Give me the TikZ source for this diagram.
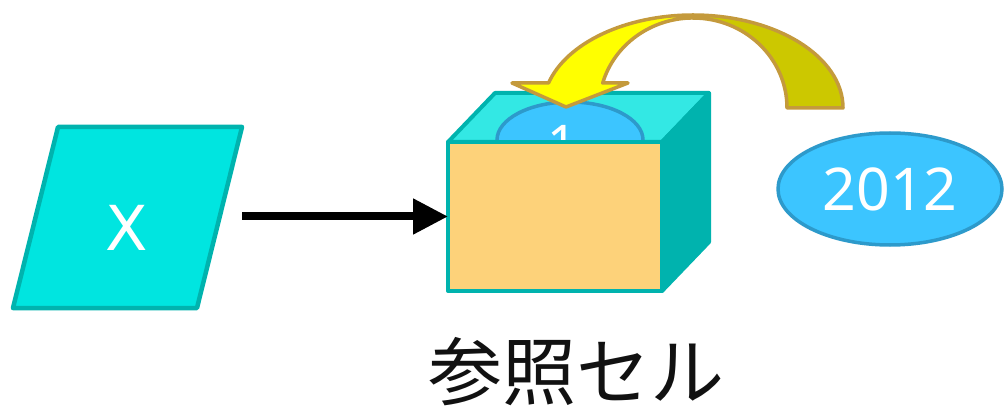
\documentclass[tikz,border=0pt]{standalone}
\usepackage{fontspec}
\setmainfont{Noto Sans}
\newfontfamily\dejavu{DejaVu Sans}
\newfontfamily\jpfont{Noto Sans CJK JP}
\usetikzlibrary{arrows.meta,shapes.geometric}

\definecolor{inputfill}{HTML}{00E5E0}
\definecolor{cellline}{HTML}{00B3AE}
\definecolor{cellfront}{HTML}{FDD27A}
\definecolor{celltop}{HTML}{33E8E4}
\definecolor{valfill}{HTML}{3CC5FF}
\definecolor{valline}{HTML}{2D9ACB}
\definecolor{arrowfront}{HTML}{FFFF00}
\definecolor{arrowback}{HTML}{CCC800}
\definecolor{arrowline}{HTML}{C49A3C}
\definecolor{captiontext}{HTML}{111111}

\tikzset{
  inputbox/.style={fill=inputfill, draw=cellline, line width=4.5pt, line join=round},
  cellface/.style={draw=cellline, line width=4pt, line join=round},
  valueoval/.style={ellipse, fill=valfill, draw=valline, line width=3.5pt, inner sep=0pt},
  bendarrow/.style={draw=arrowline, line width=3.5pt, line join=round},
  flowarrow/.style={line width=8pt, -{Triangle[length=35pt,width=34pt]}},
}

\begin{document}
\begin{tikzpicture}[x=1pt,y=1pt]
\useasboundingbox (0,0) rectangle (1006,410);

% input parallelogram
\path[inputbox] (58,283) -- (242,283) -- (197,102) -- (13,102) -- cycle;
\node[text=white, font=\dejavu\fontsize{62}{62}\selectfont] (xin) at (127,182) {X};

% back half of the bent arrow
\path[bendarrow, fill=arrowback]
  (843,302) arc[start angle=0, end angle=90, x radius=150pt, y radius=93pt]
  -- (693,392) arc[start angle=90, end angle=0, x radius=94pt, y radius=90pt]
  -- cycle;

% the cell (box) : front face as a node, top and side faces from its anchors
\node[rectangle, minimum width=214pt, minimum height=149pt, inner sep=0pt,
      outer sep=0pt] (cell) at (555,193.5) {};
\path[cellface, fill=celltop] (cell.north west) -- ++(47,49) -- ++(214,0)
  -- (cell.north east) -- cycle;
\path[cellface, fill=cellline] (cell.north east) -- ++(47,49) -- ++(0,-149)
  -- (cell.south east) -- cycle;

% value inside the cell
\node[valueoval, minimum width=146pt, minimum height=76pt] (inner) at (570,270) {};
\node[text=white, font=\fontsize{52}{52}\selectfont] (one) at (562,266) {1};

% front face on top
\node[cellface, fill=cellfront, rectangle, minimum width=214pt, minimum height=149pt,
      inner sep=0pt, outer sep=0pt] (front) at (cell.center) {};

% front half of the bent arrow with its head
\path[bendarrow, fill=arrowfront]
  (693,395) arc[start angle=90, end angle=164.4, x radius=150pt, y radius=93pt]
  -- (512,327) -- (566,303) -- (628,327) -- (602.7,327)
  arc[start angle=163.9, end angle=90, x radius=94pt, y radius=90pt]
  -- cycle;

% new value
\node[valueoval, minimum width=224pt, minimum height=112pt, text=white,
      font=\fontsize{59}{59}\selectfont] (newval) at (890,221) {2012};

% flow arrow
\coordinate (src) at (242,193.5);
\draw[flowarrow] (src) -- (front.west);

% caption
\node[text=captiontext, font=\jpfont\fontsize{74}{74}\selectfont] (caption) at (576,38) {参照セル};
\end{tikzpicture}
\end{document}
